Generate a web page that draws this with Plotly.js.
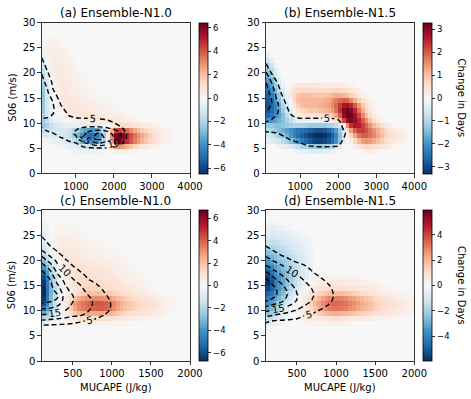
<!DOCTYPE html>
<html><head><meta charset="utf-8">
<script src="https://cdn.plot.ly/plotly-3.0.1.min.js"></script>
<style>html,body{margin:0;padding:0;background:#fff}#chart{width:471px;height:399px}</style>
</head><body><div id="chart"></div>
<script>
// ---------- data: baseline-frequency fields (contours) ----------
const capeTopNodes = [100,250,400,600,800,1000,1200,1400,1600,1800,2000,2200,2400,2700,3000,4000];
const shearTopNodes = [0,3,5,6,7,8,9,10,11,12,14,16,18,20,22,24,27,30];
const baseN10Top = [
 [0,0,0,0,0,0,0,0,0,0,0,0,0,0,0,0],
 [0.5,0.6,0.8,1,1.2,1.5,1.8,2,2.2,2,1.6,0.8,0.3,0.1,0,0],
 [2,2.3,2.7,3,3.3,3.6,4,4.4,4.6,4.4,3.6,2,0.8,0.3,0.1,0],
 [3,3.3,3.8,4.3,4.6,4.9,8,12,15,13,10,5.5,1.5,0.5,0.2,0],
 [4,4.2,4.4,4.8,5.5,9,15.5,19,22,19,15.5,10,2,0.7,0.3,0],
 [4.3,4.6,5,6,8,11,14,18,20.5,18,13,9.5,2,0.7,0.3,0],
 [4.9,5.6,6.3,7,7.5,9.3,10.5,11,11,10.5,9,5.5,1.5,0.5,0.2,0],
 [7,8,7.8,7.3,7,7,7.3,7.3,7,6.5,5.2,2.5,1,0.4,0.1,0],
 [10.2,9.8,8.5,7,5.6,5.1,4.9,4.8,4.6,4.2,3.5,2,0.8,0.3,0.1,0],
 [13,12,10.2,7,4.5,3.5,3,2.8,2.5,2.2,2,1.2,0.5,0.2,0,0],
 [15,13.5,10,4.6,3,2,1.5,1.3,1.2,1,0.8,0.5,0.2,0.1,0,0],
 [14.5,11,5.6,3.5,2,1.3,1,0.8,0.7,0.6,0.5,0.3,0.1,0,0,0],
 [12,8.5,4,2.5,1.5,1,0.7,0.5,0.4,0.3,0.2,0.1,0,0,0,0],
 [9.7,5.3,3.2,2,1,0.6,0.4,0.3,0.2,0.2,0.1,0,0,0,0,0],
 [6,3.5,2,1.2,0.6,0.4,0.2,0.1,0,0,0,0,0,0,0,0],
 [4,2.5,1.5,1,0.5,0.3,0.1,0,0,0,0,0,0,0,0,0],
 [2,1.5,1,0.6,0.3,0.1,0,0,0,0,0,0,0,0,0,0],
 [1,0.8,0.5,0.3,0.1,0,0,0,0,0,0,0,0,0,0,0]
];
const baseN15Top = [
 [0,0,0,0,0,0,0,0,0,0,0,0,0,0,0,0],
 [0.5,0.6,0.8,1,1.2,1.5,1.8,2,2.2,2,1.6,0.8,0.3,0.1,0,0],
 [2.5,2.8,3.2,3.5,3.8,4,4.2,4.4,4.5,4.4,4.2,2,0.8,0.3,0.1,0],
 [3,3.3,3.6,4,4.5,4.9,5.8,6.2,6.3,6.2,6,3,1,0.4,0.1,0],
 [3.5,3.8,4.2,4.8,5.5,6.2,7,7.2,7.3,7.2,7,4.2,1.2,0.4,0.1,0],
 [4.4,4.7,5,5.6,6.3,7,7.5,7.7,7.8,7.7,7.5,4.8,1.2,0.4,0.1,0],
 [6.5,6.5,6.5,6.8,7,7.3,7.5,7.7,7.8,7.7,7,3.5,1.2,0.4,0.1,0],
 [9.5,8.5,7,6.8,7,7,7.2,7.3,7.3,7.2,6.5,2.5,0.8,0.3,0.1,0],
 [11.5,10.5,8.5,6.5,5.6,4.9,4.9,4.9,4.9,4.9,4.2,1.5,0.5,0.2,0,0],
 [14.8,13,10.2,6.5,4.2,3.5,3.2,3,3,3,2.8,1.2,0.4,0.1,0,0],
 [17,15,10.5,5.2,3,2.2,1.8,1.6,1.5,1.5,1.3,0.6,0.2,0,0,0],
 [16.5,14,7,3,2,1.5,1.2,1,1,1,0.8,0.4,0.1,0,0,0],
 [15,10,5,2.5,1.5,1,0.8,0.7,0.6,0.5,0.4,0.2,0,0,0,0],
 [10.5,4.5,3,2,1,0.7,0.5,0.4,0.3,0.3,0.2,0.1,0,0,0,0],
 [4.5,2.5,1.5,1,0.5,0.3,0.2,0.1,0,0,0,0,0,0,0,0],
 [2.5,1.5,1,0.6,0.3,0.2,0.1,0,0,0,0,0,0,0,0,0],
 [1.5,1,0.6,0.3,0.1,0,0,0,0,0,0,0,0,0,0,0],
 [0.8,0.5,0.3,0.1,0,0,0,0,0,0,0,0,0,0,0,0]
];
const capeBotNodes = [100,200,300,400,500,600,700,800,900,1000,1200,1500,2000];
const shearBotNodes = [0,5,6,7,8,9,10,11,12,13,14,15,16,17,18,19,20,21,22,23,24,26,28,30];
// one list per CAPE node (profile along shear)
const baseN10Bot = [
 [0,1.5,3,4.5,9.5,14,18.6,22.9,26.5,29,30,30,29,27.5,25,21.7,18,14.2,10,8,6,3,1,0.3],
 [0,1.5,2.8,4.2,8.9,13.3,17.7,22.3,26,27.8,28,27,25.8,23.5,20.6,17.1,13.3,9.5,7.3,5,3.8,2,0.8,0.2],
 [0,1.5,2.7,4,8.3,12.7,16.5,20.4,24.2,25.8,23,20.8,18.3,15.8,13.3,10.8,8.7,6.3,4.5,3.5,2.7,1.5,0.6,0.2],
 [0,1.5,2.5,3.8,7.5,11.9,15,16.6,17.8,17.5,16.5,15.3,13.7,11.7,9.8,7.7,5.4,4,3,2.3,1.8,1,0.4,0.1],
 [0,1.5,2.4,3.7,6.5,10.5,12.7,14.3,15.2,15,13.5,12,10.6,8.8,6.7,4.8,3.7,2.8,2.1,1.6,1.2,0.7,0.3,0],
 [0,1.4,2.3,3.5,5.5,10,11.5,12.5,13,12.5,11.3,10,8.1,6.2,4.5,3.3,2.5,1.9,1.4,1,0.8,0.4,0.2,0],
 [0,1.3,2.2,3.3,4.8,7.6,10.2,10.8,10.8,10,8.6,7,5.3,4,3,2.2,1.7,1.3,1,0.7,0.5,0.3,0.1,0],
 [0,1.2,2,3,4.3,6,7.8,9,9.1,8.3,7,5.4,4.2,3.2,2.4,1.8,1.3,1,0.7,0.5,0.4,0.2,0.1,0],
 [0,1,1.8,2.7,3.8,4.8,6.2,7,6.8,5.7,4.7,3.8,3,2.3,1.7,1.3,1,0.7,0.5,0.4,0.3,0.1,0,0],
 [0,0.8,1.4,2.2,3,3.7,4.3,4.6,4.3,3.8,3.2,2.6,2,1.6,1.2,0.9,0.7,0.5,0.4,0.3,0.2,0.1,0,0],
 [0,0.6,1,1.5,2,2.5,2.8,3,2.8,2.5,2.1,1.7,1.3,1,0.8,0.6,0.4,0.3,0.2,0.2,0.1,0,0,0],
 [0,0.3,0.5,0.7,1,1.2,1.4,1.5,1.4,1.2,1,0.8,0.6,0.5,0.4,0.3,0.2,0.1,0.1,0,0,0,0,0],
 [0,0.1,0.2,0.3,0.4,0.4,0.5,0.5,0.5,0.4,0.3,0.3,0.2,0.2,0.1,0.1,0,0,0,0,0,0,0,0]
];
const baseN15Bot = [
 [0,1.5,2.5,3.6,6,11,16,21,25.6,27.3,28,27.5,26.5,23.5,18.8,15,12.1,9.3,6.8,4.6,3.5,2,1,0.3],
 [0,1.5,2.5,3.5,5,9.5,14,19,23.6,26,26.4,25,21.9,18.7,15.3,12.4,9.5,7.1,4.8,3.8,3,1.7,0.8,0.2],
 [0,1.5,2.4,3.4,4.6,8.3,12.7,17.3,21.2,23.2,23,21.2,18.2,15.3,12.7,10.3,7.8,5,3.9,3,2.4,1.3,0.6,0.1],
 [0,1.4,2.3,3.3,4.4,7.3,11.2,15,17.5,18.8,18.5,16.4,14.4,12.3,10.2,7.9,5.5,3.9,3,2.3,1.8,1,0.5,0.1],
 [0,1.3,2.2,3.1,4.2,6.2,9.4,12.5,14.8,15.3,14.5,13.2,11.8,10.3,8.2,6.1,4.2,3.2,2.5,1.9,1.5,0.8,0.4,0],
 [0,1.2,2,2.9,3.9,5,7.5,10,11.8,12.4,12,11.1,9.8,8.4,7,5,3.6,2.8,2.1,1.6,1.2,0.7,0.3,0],
 [0,1.1,1.8,2.6,3.5,4.4,5.8,7.8,9.7,10.3,10,9.1,7.8,6.1,4.6,3.6,2.8,2.2,1.7,1.3,1,0.5,0.2,0],
 [0,1,1.6,2.3,3.1,3.9,4.7,6.2,7.7,8.3,8,7.2,5.9,4.4,3.4,2.7,2.1,1.6,1.2,0.9,0.7,0.4,0.2,0],
 [0,0.9,1.4,2,2.7,3.4,4,4.8,5.9,6.3,6,5.3,4.2,3.3,2.6,2,1.5,1.2,0.9,0.7,0.5,0.3,0.1,0],
 [0,0.7,1.1,1.6,2.1,2.6,3.1,3.5,4,4.3,4.1,3.6,3,2.4,1.9,1.5,1.1,0.9,0.7,0.5,0.4,0.2,0.1,0],
 [0,0.5,0.8,1.1,1.4,1.7,2,2.3,2.6,2.8,2.7,2.4,2,1.6,1.3,1,0.8,0.6,0.5,0.4,0.3,0.1,0,0],
 [0,0.25,0.4,0.55,0.7,0.85,1,1.15,1.3,1.4,1.35,1.2,1,0.8,0.65,0.5,0.4,0.3,0.25,0.2,0.15,0,0,0],
 [0,0.1,0.15,0.2,0.3,0.35,0.4,0.45,0.5,0.55,0.5,0.45,0.4,0.3,0.25,0.2,0.15,0.1,0.1,0,0,0,0,0]
];

// ---------- data: change in days (cells). Each entry: [shear row, first CAPE column, values...]; unlisted cells are 0 ----------
const changeN10Top = [
 [26,1, 0.2,0.25,0.25,0.2,0.15],
 [25,0, 0.1,0.3,0.35,0.35,0.3,0.2,0.15],
 [24,0, -0.3,0.3,0.4,0.45,0.4,0.35,0.25,0.15],
 [23,0, -0.5,0.3,0.45,0.5,0.5,0.45,0.35,0.25,0.15],
 [22,0, -0.8,0.2,0.45,0.55,0.55,0.5,0.4,0.3,0.2],
 [21,0, -1.2,-0.2,0.4,0.55,0.6,0.55,0.45,0.35,0.25,0.15],
 [20,0, -1.6,-0.5,0.3,0.55,0.65,0.6,0.5,0.4,0.3,0.2,0.1],
 [19,0, -1.8,-0.7,0.2,0.5,0.65,0.65,0.55,0.45,0.35,0.25,0.15,0.1],
 [18,0, -2,-0.9,0,0.5,0.65,0.7,0.6,0.5,0.4,0.3,0.2,0.15,0.1],
 [17,0, -2.3,-1,-0.1,0.4,0.6,0.7,0.65,0.55,0.45,0.35,0.25,0.2,0.15,0.1],
 [16,0, -2.5,-1.1,-0.2,0.3,0.55,0.7,0.7,0.6,0.5,0.4,0.3,0.25,0.2,0.15,0.1],
 [15,0, -2.6,-1.2,-0.2,0.2,0.5,0.7,0.75,0.65,0.55,0.45,0.4,0.3,0.25,0.2,0.15,0.1,0.1],
 [14,0, -2.6,-1.2,-0.3,0.1,0.4,0.65,0.75,0.75,0.65,0.55,0.5,0.4,0.35,0.3,0.25,0.2,0.15,0.1,0.1],
 [13,0, -2.5,-1.2,-0.4,0,0.3,0.55,0.7,0.75,0.75,0.7,0.6,0.55,0.5,0.45,0.4,0.35,0.3,0.25,0.2,0.15,0.1],
 [12,0, -2.4,-1.3,-0.5,-0.1,0.1,0.4,0.6,0.7,0.75,0.75,0.7,0.65,0.6,0.55,0.5,0.45,0.4,0.35,0.3,0.25,0.2,0.15,0.1],
 [11,0, -2.2,-1.3,-0.6,-0.3,-0.1,0.2,0.4,0.55,0.65,0.7,0.75,0.75,0.7,0.7,0.65,0.6,0.6,0.55,0.5,0.45,0.4,0.3,0.2,0.15,0.1],
 [10,0, -2.3,-1.6,-0.9,-0.6,-0.4,-0.2,0,0.2,0.35,0.45,0.5,0.5,0.5,0.5,0.55,0.6,0.65,0.7,0.75,0.8,0.7,0.6,0.5,0.4,0.3,0.2,0.1],
 [9,0, -2.5,-2,-1.5,-1.2,-1,-0.8,-0.6,-0.5,-0.5,-0.6,-0.7,-0.8,-0.8,-0.8,-0.7,-0.5,-0.3,0,0.5,1,1.2,1.2,1.1,1,0.9,0.8,0.7,0.6,0.5,0.4,0.3,0.2,0.1],
 [8,0, -1.8,-1.6,-1.4,-1.2,-1.1,-1.1,-1.2,-1.4,-1.8,-2.4,-3,-3.4,-3.6,-3.6,-3.3,-2.6,-1.6,-0.3,2.2,4,4.5,4.3,3.6,3,2.5,2.1,1.7,1.4,1.1,0.8,0.6,0.4,0.3,0.2,0.1],
 [7,0, -1,-1,-0.9,-0.9,-1,-1.1,-1.3,-1.6,-2.2,-3,-3.8,-4.4,-4.8,-5,-4.7,-3.8,-2.4,-0.6,3,6,6.4,6,5,4.2,3.5,3,2.5,2,1.6,1.2,0.9,0.6,0.4,0.3,0.2,0.1],
 [6,0, -0.3,-0.3,-0.4,-0.5,-0.6,-0.7,-0.9,-1.1,-1.6,-2.2,-2.9,-3.5,-3.9,-4,-3.8,-3,-1.8,-0.4,2.6,5.6,6.2,5.6,4.8,4,3.3,2.8,2.2,1.8,1.4,1,0.7,0.5,0.3,0.2,0.1],
 [5,3, -0.1,-0.2,-0.3,-0.4,-0.5,-0.7,-0.9,-1.1,-1.3,-1.4,-1.4,-1.3,-1,-0.6,-0.1,1.2,2.8,3,2.7,2.2,1.8,1.4,1.1,0.8,0.6,0.4,0.3,0.2,0.1],
 [4,7, -0.1,-0.2,-0.3,-0.4,-0.5,-0.5,-0.5,-0.4,-0.3,-0.2,0,0.2,0.4,0.4,0.3,0.3,0.2,0.2,0.1],
 [3,9, -0.1,-0.1,-0.1,-0.1,-0.1,-0.1,-0.1]
];
const changeN15Top = [
 [23,0, -0.3],
 [22,0, -0.6,-0.3],
 [21,0, -1,-0.6,-0.2],
 [20,0, -1.3,-0.9,-0.4,-0.1],
 [19,0, -1.6,-1.2,-0.6,-0.2],
 [18,0, -1.9,-1.5,-0.9,-0.4,-0.1],
 [17,0, -2.2,-1.8,-1.2,-0.6,-0.2,0,0.2,0.3,0.35,0.4,0.4,0.4,0.4,0.35,0.3,0.3,0.3,0.3,0.3,0.3,0.25,0.2,0.15,0.1],
 [16,0, -2.5,-2.1,-1.5,-0.9,-0.4,-0.1,0.3,0.5,0.6,0.65,0.65,0.65,0.6,0.6,0.6,0.6,0.65,0.7,0.7,0.65,0.6,0.5,0.4,0.3,0.2,0.1],
 [15,0, -2.7,-2.3,-1.8,-1.2,-0.6,-0.2,0.4,0.7,0.9,1,1,1,0.95,0.9,0.9,0.95,1,1.1,1.2,1.2,1.1,1,0.8,0.6,0.4,0.2,0.1],
 [14,0, -2.8,-2.5,-2,-1.4,-0.8,-0.3,0.1,0.7,1,1.1,1.1,1.1,1.1,1.1,1.1,1.2,1.3,1.5,1.7,1.9,2,1.9,1.6,1.2,0.8,0.5,0.3,0.1],
 [13,0, -2.9,-2.6,-2.2,-1.6,-1,-0.5,-0.1,0.4,0.8,1,1.1,1.1,1.1,1.1,1.2,1.3,1.4,1.6,1.9,2.3,2.7,2.8,2.5,2,1.4,0.9,0.5,0.3,0.1],
 [12,0, -2.9,-2.6,-2.2,-1.8,-1.2,-0.7,-0.3,0.2,0.5,0.7,0.8,0.9,0.9,0.9,1,1.1,1.2,1.4,1.8,2.4,3,3.2,3,2.5,1.8,1.2,0.7,0.4,0.2],
 [11,0, -2.6,-2.4,-2.1,-1.8,-1.4,-0.9,-0.5,-0.2,0.2,0.3,0.4,0.4,0.4,0.4,0.5,0.6,0.7,0.9,1.3,2,2.9,3.29,3.2,2.8,2.2,1.6,1,0.6,0.3,0.1],
 [10,0, -2,-1.9,-1.8,-1.6,-1.4,-1.1,-0.8,-0.5,-0.3,-0.2,-0.2,-0.2,-0.2,-0.2,-0.2,-0.2,-0.1,0.2,0.5,1.2,2.2,2.9,3.1,2.9,2.5,2,1.5,1,0.6,0.3,0.1],
 [9,0, -1.3,-1.3,-1.4,-1.4,-1.3,-1.2,-1.1,-1,-1,-1,-1.1,-1.2,-1.2,-1.2,-1.2,-1.2,-1.1,-1,-0.8,-0.5,-0.2,1.6,2.4,2.7,2.6,2.3,1.9,1.5,1.1,0.8,0.5,0.3,0.2,0.1],
 [8,0, -0.9,-1,-1.2,-1.4,-1.6,-1.8,-2,-2.2,-2.4,-2.5,-2.6,-2.7,-2.8,-2.9,-2.9,-2.8,-2.6,-2.3,-1.9,-1.2,-0.4,0.6,1.4,2,2.3,2.3,2.1,1.8,1.5,1.2,0.9,0.7,0.5,0.4,0.3,0.2,0.1],
 [7,0, -0.6,-0.7,-0.9,-1.1,-1.3,-1.6,-1.9,-2.2,-2.5,-2.7,-2.9,-3.1,-3.2,-3.29,-3.29,-3.2,-3,-2.7,-2.2,-1.4,-0.5,0.2,0.7,1.3,1.8,2,2,1.8,1.6,1.3,1,0.8,0.6,0.5,0.4,0.3,0.2,0.1],
 [6,0, -0.3,-0.4,-0.5,-0.7,-0.9,-1.1,-1.4,-1.7,-2,-2.3,-2.6,-2.8,-3,-3.1,-3.1,-3,-2.8,-2.5,-2,-1.3,-0.4,0,0.3,0.7,1.1,1.4,1.5,1.4,1.2,1,0.8,0.6,0.5,0.4,0.3,0.2,0.1],
 [5,3, -0.2,-0.3,-0.4,-0.5,-0.7,-0.8,-1,-1.1,-1.2,-1.3,-1.3,-1.3,-1.2,-1.1,-0.9,-0.7,-0.4,-0.1,0,0,0.2,0.4,0.6,0.7,0.7,0.6,0.5,0.4,0.3,0.2,0.1],
 [4,7, -0.1,-0.2,-0.3,-0.3,-0.4,-0.4,-0.4,-0.4,-0.3,-0.3,-0.2,-0.1,0,0,0,0,0,0,0.1,0.2,0.2,0.2,0.1]
];
const changeN10Bot = [
 [27,0, -0.3],
 [26,0, -0.4,-0.2,0,0.1,0.15,0.2,0.2,0.2,0.15,0.1],
 [25,0, -0.5,-0.3,0.1,0.2,0.3,0.3,0.3,0.3,0.25,0.2,0.15,0.1],
 [24,0, -0.7,-0.4,-0.1,0.25,0.4,0.45,0.45,0.4,0.35,0.3,0.25,0.2,0.15,0.1],
 [23,0, -0.9,-0.5,-0.2,0.3,0.5,0.55,0.55,0.5,0.45,0.4,0.35,0.3,0.25,0.2,0.15,0.1],
 [22,0, -1.2,-0.7,-0.3,0.3,0.55,0.65,0.65,0.6,0.55,0.5,0.45,0.4,0.35,0.3,0.25,0.2,0.15,0.1],
 [21,0, -1.6,-1,-0.5,-0.1,0.5,0.7,0.75,0.7,0.65,0.6,0.55,0.5,0.45,0.4,0.35,0.3,0.25,0.2,0.15,0.1],
 [20,0, -2.2,-1.5,-0.8,-0.3,0.4,0.7,0.8,0.8,0.75,0.7,0.65,0.6,0.55,0.5,0.45,0.4,0.35,0.3,0.25,0.2,0.15,0.1],
 [19,0, -3,-2.2,-1.2,-0.6,-0.1,0.6,0.8,0.9,0.9,0.85,0.8,0.75,0.7,0.65,0.6,0.55,0.5,0.45,0.4,0.3,0.25,0.2,0.15,0.1],
 [18,0, -4,-3,-1.8,-0.9,-0.2,0.5,0.8,1,1,1,0.95,0.9,0.85,0.8,0.75,0.7,0.6,0.55,0.5,0.4,0.35,0.3,0.2,0.15,0.1],
 [17,0, -5.2,-3.8,-2.3,-1.2,-0.3,0.3,0.7,1,1.1,1.1,1.1,1.05,1,0.95,0.9,0.85,0.75,0.7,0.6,0.5,0.45,0.4,0.3,0.25,0.2,0.1],
 [16,0, -6,-4.4,-2.7,-1.5,-0.4,0.2,0.5,0.9,1.1,1.2,1.2,1.2,1.15,1.1,1.05,1,0.9,0.85,0.75,0.65,0.55,0.5,0.4,0.3,0.25,0.2,0.1],
 [15,0, -6.5,-4.8,-3,-1.7,-0.5,0,0.3,0.7,1,1.2,1.3,1.35,1.35,1.3,1.25,1.2,1.1,1,0.9,0.8,0.7,0.6,0.5,0.4,0.35,0.3,0.2,0.1],
 [14,0, -6.75,-5,-3.1,-1.8,-0.5,0,0.2,0.5,0.9,1.2,1.4,1.5,1.55,1.55,1.5,1.45,1.35,1.25,1.1,1,0.9,0.8,0.7,0.6,0.5,0.4,0.3,0.2,0.1],
 [13,0, -6.75,-5,-3.1,-1.8,-0.5,0,0.2,0.5,1,1.4,1.7,1.9,2,2.05,2.05,2,1.9,1.8,1.6,1.45,1.3,1.15,1,0.9,0.8,0.7,0.6,0.5,0.4,0.3,0.2,0.1],
 [12,0, -6.5,-4.8,-3,-1.7,-0.4,0.3,0.6,1.2,2,2.5,2.8,3,3.1,3.2,3.2,3.1,3,2.8,2.5,2.2,1.9,1.7,1.5,1.3,1.15,1,0.9,0.8,0.7,0.55,0.45,0.35,0.25,0.15,0.1],
 [11,0, -6,-4.5,-2.8,-1.5,-0.3,0.4,0.8,1.8,2.8,3.3,3.6,3.8,4,4.1,4.2,4.2,4.1,3.8,3.3,2.8,2.4,2.1,1.9,1.7,1.5,1.3,1.2,1.05,0.9,0.75,0.6,0.5,0.35,0.25,0.15,0.1],
 [10,0, -5,-3.8,-2.4,-1.2,-0.2,0.3,0.7,1.7,2.7,3.2,3.5,3.7,3.9,4,4.1,4.1,4,3.7,3.2,2.7,2.3,2,1.8,1.6,1.4,1.25,1.1,1,0.85,0.7,0.55,0.45,0.3,0.2,0.1],
 [9,0, -3.5,-2.8,-1.8,-0.8,0,0.3,0.6,1.2,1.8,2.2,2.4,2.5,2.6,2.6,2.6,2.5,2.4,2.3,2.1,1.8,1.6,1.4,1.25,1.1,1,0.9,0.8,0.7,0.6,0.5,0.4,0.3,0.2,0.1],
 [8,0, -2,-1.6,-1,-0.4,0.1,0.2,0.4,0.6,0.8,1,1.1,1.15,1.2,1.2,1.2,1.15,1.1,1,0.9,0.8,0.7,0.6,0.55,0.5,0.45,0.4,0.35,0.3,0.25,0.2,0.15,0.1],
 [7,0, -0.8,-0.6,-0.3,-0.1,0,0,0.1,0.2,0.3,0.35,0.4,0.4,0.4,0.4,0.4,0.35,0.3,0.3,0.25,0.2,0.2,0.15,0.1],
 [6,0, -0.2,-0.1,0,0,0,0,0,0,0.1,0.1,0.1,0.1,0.1,0.1,0.1,0.1,0.1]
];
const changeN15Bot = [
 [27,0, -0.2,-0.2,-0.2,-0.1],
 [26,0, -0.4,-0.5,-0.5,-0.4,-0.3,-0.2,-0.1],
 [25,0, -0.6,-0.8,-0.8,-0.7,-0.6,-0.5,-0.4,-0.3,-0.2,-0.1],
 [24,0, -0.9,-1.1,-1.1,-1,-0.9,-0.8,-0.6,-0.5,-0.4,-0.3,-0.2,-0.1],
 [23,0, -1.3,-1.4,-1.4,-1.3,-1.2,-1,-0.9,-0.7,-0.6,-0.5,-0.3,-0.2],
 [22,0, -1.8,-1.8,-1.7,-1.6,-1.4,-1.3,-1.1,-0.9,-0.8,-0.6,-0.4,-0.2],
 [21,0, -2.4,-2.3,-2.1,-1.9,-1.7,-1.5,-1.3,-1.1,-0.9,-0.7,-0.5,-0.3],
 [20,0, -3,-2.8,-2.5,-2.2,-2,-1.8,-1.5,-1.3,-1,-0.8,-0.6,-0.3],
 [19,0, -3.6,-3.3,-2.9,-2.6,-2.3,-2,-1.7,-1.4,-1.1,-0.9,-0.6,-0.3],
 [18,0, -4.3,-3.9,-3.3,-2.9,-2.5,-2.2,-1.9,-1.5,-1.2,-0.9,-0.6,-0.3],
 [17,0, -5,-4.5,-3.7,-3.2,-2.8,-2.4,-2,-1.6,-1.2,-0.9,-0.6,-0.2],
 [16,0, -5.6,-5,-4,-3.5,-3,-2.5,-2.1,-1.6,-1.2,-0.8,-0.5,-0.2,0.1,0.2,0.2,0.25,0.3,0.3,0.3,0.3,0.3,0.25,0.2,0.2,0.15,0.1],
 [15,0, -5.93,-5.2,-4.2,-3.6,-3.1,-2.5,-2,-1.5,-1,-0.6,-0.3,0.1,0.3,0.4,0.5,0.55,0.6,0.6,0.6,0.6,0.55,0.5,0.45,0.4,0.35,0.3,0.25,0.2,0.15,0.1],
 [14,0, -5.5,-4.9,-4,-3.5,-3,-2.3,-1.7,-1.2,-0.7,-0.3,0.2,0.4,0.6,0.8,0.9,1,1.05,1.05,1.05,1,0.95,0.9,0.8,0.7,0.65,0.6,0.5,0.45,0.4,0.3,0.25,0.2,0.15,0.1],
 [13,0, -4.8,-4.3,-3.6,-3.1,-2.6,-1.9,-1.3,-0.8,-0.3,0.2,0.4,0.7,1,1.3,1.5,1.7,1.8,1.85,1.85,1.8,1.7,1.6,1.45,1.3,1.15,1,0.9,0.8,0.7,0.6,0.5,0.4,0.35,0.3,0.25,0.2,0.15,0.1],
 [12,0, -4.2,-3.8,-3.2,-2.7,-2.1,-1.4,-0.8,-0.4,0.1,0.4,0.7,1.1,1.6,2,2.4,2.7,2.9,3,3,2.9,2.8,2.6,2.4,2.1,1.9,1.7,1.5,1.3,1.1,0.95,0.8,0.7,0.6,0.5,0.4,0.3,0.25,0.2],
 [11,0, -3.6,-3.3,-2.8,-2.2,-1.6,-0.9,-0.4,-0.1,0.2,0.5,0.8,1.3,1.9,2.4,2.8,3.1,3.3,3.4,3.4,3.3,3.2,3,2.8,2.5,2.2,2,1.8,1.6,1.4,1.2,1,0.9,0.8,0.7,0.6,0.5,0.4,0.3],
 [10,0, -3,-2.7,-2.3,-1.7,-1.1,-0.5,-0.1,0.1,0.3,0.5,0.8,1.2,1.7,2.2,2.6,2.9,3.1,3.2,3.2,3.1,3,2.8,2.6,2.3,2.1,1.9,1.7,1.5,1.3,1.1,0.95,0.85,0.75,0.65,0.55,0.45,0.35,0.3],
 [9,0, -2.3,-2.1,-1.7,-1.2,-0.7,-0.3,0,0.1,0.2,0.4,0.6,0.9,1.2,1.5,1.7,1.9,2,2.1,2.1,2,1.9,1.8,1.7,1.5,1.4,1.3,1.2,1.05,0.9,0.8,0.7,0.6,0.5,0.45,0.4,0.3,0.25,0.2],
 [8,0, -1.5,-1.3,-1,-0.7,-0.4,-0.1,0,0,0.1,0.2,0.3,0.4,0.5,0.6,0.7,0.75,0.8,0.8,0.8,0.8,0.75,0.7,0.65,0.6,0.55,0.5,0.45,0.4,0.35,0.3,0.25,0.2,0.15,0.1],
 [7,0, -0.7,-0.6,-0.5,-0.3,-0.1,0,0,0,0,0,0.1,0.15,0.2,0.2,0.25,0.25,0.25,0.25,0.25,0.2,0.2,0.15,0.1],
 [6,0, -0.2,-0.2,-0.1]
];

// color limits of each panel
const limits = [6.44, 3.29, 6.75, 5.93];
const cbTicksA = [-6,-4,-2,0,2,4,6];
const cbTicksB = [-3,-2,-1,0,1,2,3];
const cbTicksC = [-6,-4,-2,0,2,4,6];
const cbTicksD = [-4,-2,0,2,4];
const panelTitles = ['(a) Ensemble-N1.0','(b) Ensemble-N1.5','(c) Ensemble-N1.0','(d) Ensemble-N1.5'];

// ---------- build ----------
function cellGrid(specs, nrows, ncols){
  const z = [];
  for(let r=0;r<nrows;r++){ z.push(new Array(ncols).fill(0)); }
  specs.forEach(s=>{ const r=s[0], c=s[1]; for(let i=2;i<s.length;i++){ if(c+i-2<ncols) z[r][c+i-2]+=s[i]; } });
  return z;
}
const rowsY = []; for(let i=0;i<30;i++) rowsY.push(i+0.5);
const colsTop = []; for(let i=0;i<39;i++) colsTop.push(150+100*i);
const colsBot = []; for(let i=0;i<38;i++) colsBot.push(125+50*i);

const W=471, H=399;
const fx = p=>p/W, fy = p=>1-p/H;
const panels = [
  {x0:41.7,x1:190,y0:22.7,y1:173.3, cbx:199},
  {x0:266,x1:414.3,y0:22.7,y1:173.3, cbx:423.3},
  {x0:41.7,x1:190,y0:210,y1:361, cbx:199},
  {x0:265.7,x1:414.3,y0:210,y1:361, cbx:423.3}
];
const RdBu_r = [[0,'#053061'],[0.1,'#2166ac'],[0.2,'#4393c3'],[0.3,'#92c5de'],[0.4,'#d1e5f0'],[0.5,'#f7f7f7'],[0.6,'#fddbc7'],[0.7,'#f4a582'],[0.8,'#d6604d'],[0.9,'#b2182b'],[1,'#67001f']];
const heatData = [cellGrid(changeN10Top,30,39), cellGrid(changeN15Top,30,39), cellGrid(changeN10Bot,30,38), cellGrid(changeN15Bot,30,38)];
const cbTicks = [cbTicksA, cbTicksB, cbTicksC, cbTicksD];
const contourDefs = [
  {x:capeTopNodes, y:shearTopNodes, z:baseN10Top, tr:false, end:20},
  {x:capeTopNodes, y:shearTopNodes, z:baseN15Top, tr:false, end:15},
  {x:capeBotNodes, y:shearBotNodes, z:baseN10Bot, tr:true, end:25},
  {x:capeBotNodes, y:shearBotNodes, z:baseN15Bot, tr:true, end:25}
];

const traces = [];
const layout = {
  width:W, height:H, margin:{l:0,r:0,t:0,b:0}, paper_bgcolor:'#fff', plot_bgcolor:'#fff',
  showlegend:false, font:{family:'DejaVu Sans', color:'#000', size:10}, annotations:[]
};
panels.forEach((p,i)=>{
  const n = i===0?'':String(i+1);
  const xa='x'+n, ya='y'+n;
  const top = i<2;
  traces.push({
    type:'heatmap', x: top?colsTop:colsBot, y: rowsY, z: heatData[i], xaxis:xa, yaxis:ya,
    colorscale:RdBu_r, zmin:-limits[i], zmax:limits[i], zsmooth:false, hoverinfo:'skip',
    colorbar:{
      thickness:8.5, thicknessmode:'pixels', len:(p.y1-p.y0)/H, lenmode:'fraction',
      x:fx(p.cbx), xanchor:'left', y:fy((p.y0+p.y1)/2), yanchor:'middle', xpad:0, ypad:0,
      outlinewidth:0.8, outlinecolor:'#000', ticks:'outside', ticklen:3.5, tickwidth:0.8, tickcolor:'#000',
      tickmode:'array', tickvals:cbTicks[i], tickfont:{size:8.5, family:'DejaVu Sans', color:'#000'}
    }
  });
  const c = contourDefs[i];
  traces.push({
    type:'contour', x:c.x, y:c.y, z:c.z, transpose:c.tr, xaxis:xa, yaxis:ya, showscale:false, hoverinfo:'skip',
    contours:{coloring:'none', showlabels:true, start:5, end:c.end, size:5, labelfont:{size:10, color:'#000', family:'DejaVu Sans'}},
    line:{color:'#000', width:1.4, dash:'5px,3px', smoothing:1}
  });
  const common = {showline:true, mirror:true, linecolor:'#000', linewidth:0.8, ticks:'outside', ticklen:3.5, tickwidth:0.8,
    tickcolor:'#000', showgrid:false, zeroline:false, tickfont:{size:10, color:'#000'}, fixedrange:true};
  layout['xaxis'+n] = Object.assign({}, common, {domain:[fx(p.x0), fx(p.x1)], anchor:ya,
    range: top?[100,4000]:[100,2000], tickmode:'array', tickvals: top?[1000,2000,3000,4000]:[500,1000,1500,2000]});
  layout['yaxis'+n] = Object.assign({}, common, {domain:[fy(p.y1), fy(p.y0)], anchor:xa,
    range:[0,30], tickmode:'array', tickvals:[0,5,10,15,20,25,30]});
  layout.annotations.push({text:panelTitles[i], xref:'paper', yref:'paper', x:fx((p.x0+p.x1)/2), y:fy(p.y0-9.5),
    xanchor:'center', yanchor:'middle', showarrow:false, font:{size:12, color:'#000'}});
  if(i%2===0){
    layout.annotations.push({text:'S06 (m/s)', xref:'paper', yref:'paper', x:fx(11.7), y:fy((p.y0+p.y1)/2),
      xanchor:'center', yanchor:'middle', textangle:-90, showarrow:false, font:{size:10, color:'#000'}});
  } else {
    layout.annotations.push({text:'Change in Days', xref:'paper', yref:'paper', x:fx(461.5), y:fy((p.y0+p.y1)/2),
      xanchor:'center', yanchor:'middle', textangle:90, showarrow:false, font:{size:10, color:'#000'}});
  }
  if(!top){
    layout.annotations.push({text:'MUCAPE (J/kg)', xref:'paper', yref:'paper', x:fx((p.x0+p.x1)/2), y:fy(387.5),
      xanchor:'center', yanchor:'middle', showarrow:false, font:{size:10, color:'#000'}});
  }
});
Plotly.newPlot('chart', traces, layout, {staticPlot:true, displayModeBar:false});
</script></body></html>
